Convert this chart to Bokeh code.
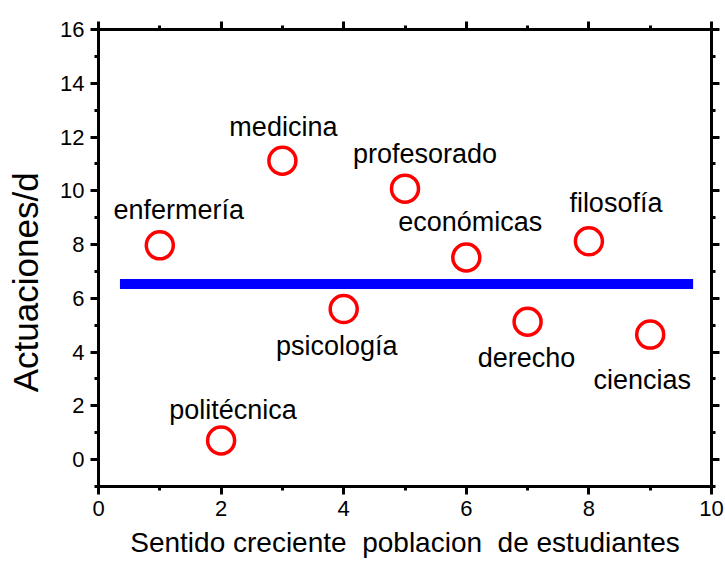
from bokeh.plotting import figure
from bokeh.models import LinearAxis, Range1d, ColumnDataSource, FixedTicker
from bokeh.core.properties import value
from bokeh.embed import file_html
from bokeh.resources import INLINE

# data
carreras = ["enfermería", "politécnica", "medicina", "psicología", "profesorado",
            "económicas", "derecho", "filosofía", "ciencias"]
orden = [1, 2, 3, 4, 5, 6, 7, 8, 9]
actuaciones = [7.97, 0.71, 11.12, 5.6, 10.08, 7.52, 5.13, 8.12, 4.65]
media_x = [0.35, 9.7]
media_y = [6.53, 6.53]
x_ticks = [0, 2, 4, 6, 8, 10]
y_ticks = [0, 2, 4, 6, 8, 10, 12, 14, 16]

# label pixel offsets (style)
lab_dx = [19, 12, 1, -7, 20, 4, -1, 27, -8]
lab_dy = [-35, -31, -34, 37, -35, -35, 36, -38, 45]

FONT = "Liberation Sans"

p = figure(width=725, height=563, output_backend="svg", toolbar_location=None,
           x_range=Range1d(0, 10), y_range=Range1d(-1, 16),
           min_border_left=98, min_border_right=14, min_border_top=29, min_border_bottom=77)
p.outline_line_color = None
p.xgrid.visible = False
p.ygrid.visible = False
p.background_fill_color = "white"
p.border_fill_color = "white"

xt = FixedTicker(ticks=x_ticks, minor_ticks=[1, 3, 5, 7, 9])
yt = FixedTicker(ticks=y_ticks, minor_ticks=[-1, 1, 3, 5, 7, 9, 11, 13, 15])

def style(ax, labels=True):
    ax.axis_line_width = 3
    ax.axis_line_color = "black"
    ax.major_tick_line_width = 3
    ax.minor_tick_line_width = 3
    ax.major_tick_out = 8
    ax.major_tick_in = 0
    ax.minor_tick_out = 4
    ax.minor_tick_in = 0
    ax.major_label_text_font = FONT
    ax.major_label_text_font_size = "22px"
    ax.major_label_text_color = "black"
    if not labels:
        ax.major_label_text_font_size = "1px"
        ax.major_label_text_color = None
        ax.major_label_standoff = 0

p.xaxis.ticker = xt
p.yaxis.ticker = yt
style(p.xaxis[0])
style(p.yaxis[0])
p.xaxis.major_label_standoff = 6
p.yaxis.major_label_standoff = 6
p.xaxis.axis_label = "Sentido creciente\u00a0 poblacion\u00a0 de estudiantes"
p.xaxis.axis_label_text_font = FONT
p.xaxis.axis_label_text_font_size = "28px"
p.xaxis.axis_label_text_font_style = "normal"
p.xaxis.axis_label_text_color = "black"
p.xaxis.axis_label_standoff = 8
p.yaxis.axis_label = "Actuaciones/d" + "\u00a0" * 5
p.yaxis.axis_label_text_font = FONT
p.yaxis.axis_label_text_font_size = "35px"
p.yaxis.axis_label_text_font_style = "normal"
p.yaxis.axis_label_text_color = "black"
p.yaxis.axis_label_standoff = 12

top = LinearAxis(ticker=xt)
style(top, labels=False)
p.add_layout(top, "above")
right = LinearAxis(ticker=yt)
style(right, labels=False)
p.add_layout(right, "right")

p.line(media_x, media_y, line_color="blue", line_width=10, line_cap="butt")

src = ColumnDataSource(dict(x=orden, y=actuaciones, t=carreras, dx=lab_dx, dy=lab_dy))
p.scatter("x", "y", source=src, size=27, fill_color=None, line_color="red", line_width=3.5)
p.text("x", "y", text="t", source=src, x_offset="dx", y_offset="dy",
       text_align="center", text_baseline="middle",
       text_font=value(FONT), text_font_size="27px", text_color="black")

open("out.html", "w").write(file_html(p, INLINE))
